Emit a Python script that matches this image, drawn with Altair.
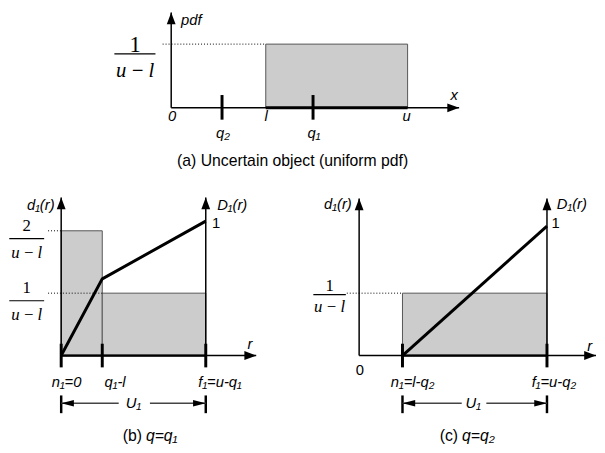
import altair as alt
import pandas as pd

# ---------------- values ----------------
# (a) uncertain object with a uniform pdf on [l, u]
A_NAMES = ["0", "q₂", "l", "q₁", "u"]
A_VALUES = [0.0, 2.15, 4.0, 6.0, 10.0]
L_VAL = 4.0
U_VAL = 10.0
PDF = 1.0 / (U_VAL - L_VAL)

# (b) q = q1  (schematic r axis)
B_R = [0.0, 1.0, 3.52]                 # n1, q1-l, f1
B_R_LABELS = ["n₁=0", "q₁-l", "f₁=u-q₁"]
B_DENSITY = [2.0, 1.0]                 # multiples of 1/(u-l)
B_CDF = [0.0, 0.57, 1.0]

# (c) q = q2
C_R = [1.8, 7.8]                       # n1, f1
C_R_LABELS = ["n₁=l-q₂", "f₁=u-q₂"]
C_DENSITY = [1.0]
C_CDF = [0.0, 1.0]

CAPTION_A = "(a) Uncertain object (uniform pdf)"
CAPTION_B = ["(b)", "q=q₁"]
CAPTION_C = ["(c)", "q=q₂"]
NAMES = {"pdf": "pdf", "x": "x", "d": "d₁(r)", "D": "D₁(r)", "r": "r",
         "U": "U₁", "one": "1", "zero": "0"}
FRAC_DEN = "u\u2009−\u2009l"

# ---------------- styling ----------------
SANS = "Arial, Liberation Sans, Helvetica, sans-serif"
SERIF = "Times New Roman, Liberation Serif, serif"
UP = "M0,0L-1.5,4L1.5,4Z"
RIGHT = "M0,0L-4,-1.5L-4,1.5Z"
DIM_L = "M0,0L4.3,-1.1L4.3,1.1Z"
DIM_R = "M0,0L-4.3,-1.1L-4.3,1.1Z"
FILL = "#cccccc"
EDGE = "#555555"


def lin(origin, ppu, size, vertical=False):
    if vertical:
        d = [(origin - size) / ppu, origin / ppu]
    else:
        d = [-origin / ppu, (size - origin) / ppu]
    return alt.Scale(domain=d, nice=False, zero=False)


class Panel:
    def __init__(self, xs, ys):
        self.xs, self.ys = xs, ys
        self.layers = []

    def X(self):
        return alt.X("x:Q", scale=self.xs, axis=None)

    def Y(self, ys=None):
        return alt.Y("y:Q", scale=ys or self.ys, axis=None)

    def seg(self, rows, ys=None, **mk):
        df = pd.DataFrame(rows)
        enc = {"x": self.X(), "y": self.Y(ys)}
        if "x2" in df.columns:
            enc["x2"] = alt.X2("x2:Q")
        if "y2" in df.columns:
            enc["y2"] = alt.Y2("y2:Q")
        props = dict(color="black", strokeWidth=1.5)
        props.update(mk)
        self.layers.append(alt.Chart(df).mark_rule(**props).encode(**enc))

    def rect(self, rows):
        df = pd.DataFrame(rows)
        self.layers.append(
            alt.Chart(df).mark_rect(fill=FILL, stroke=EDGE, strokeWidth=1).encode(
                x=self.X(), x2="x2:Q", y=self.Y(), y2="y2:Q"))

    def arrow(self, rows, shape, **mk):
        df = pd.DataFrame(rows)
        self.layers.append(
            alt.Chart(df).mark_point(shape=shape, size=36, filled=True, color="black",
                                     opacity=1, strokeWidth=0, **mk).encode(
                x=self.X(), y=self.Y()))

    def line(self, xs, ys_vals, yscale):
        df = pd.DataFrame({"x": xs, "y": ys_vals})
        self.layers.append(
            alt.Chart(df).mark_line(color="black", strokeWidth=3).encode(
                x=self.X(), y=self.Y(yscale)))

    def text(self, x, y, s, ys=None, **mk):
        df = pd.DataFrame({"x": [x], "y": [y], "t": [s]})
        props = dict(font=SANS, fontSize=15, fontStyle="italic", baseline="alphabetic",
                     align="center", color="black")
        props.update(mk)
        self.layers.append(
            alt.Chart(df).mark_text(**props).encode(x=self.X(), y=self.Y(ys), text="t:N"))

    def caption(self, px, py, s, **mk):
        df = pd.DataFrame({"t": [s]})
        props = dict(font=SANS, fontSize=16, fontStyle="normal", baseline="alphabetic",
                     align="center", color="black")
        props.update(mk)
        self.layers.append(
            alt.Chart(df).mark_text(**props).encode(x=alt.value(px), y=alt.value(py),
                                                    text="t:N"))

    def frac(self, num, y, cx, num_dy, bar_dy, den_dy, b0, b1, nsize, dsize):
        self.text(0, y, num, font=SERIF, fontSize=nsize, fontStyle="normal", dx=cx, dy=num_dy)
        self.seg([{"x": 0, "x2": 0, "y": y}], xOffset=b0, x2Offset=b1, yOffset=bar_dy,
                 strokeWidth=1.2)
        self.text(0, y, FRAC_DEN, font=SERIF, fontSize=dsize, dx=cx, dy=den_dy)

    def chart(self, w, h):
        return alt.layer(*self.layers).resolve_scale(y="independent").properties(
            width=w, height=h)


# ---------------- panel (a) ----------------
WA, HA = 589, 177
A = Panel(lin(163.7, 24.0, WA), lin(97.0, 64.7 / PDF, HA, vertical=True))
tipYA = 96.9 / (64.7 / PDF)
tipXA = (456 - 163.7) / 24.0
A.rect([{"x": L_VAL, "x2": U_VAL, "y": 0, "y2": PDF}])
A.seg([{"x": L_VAL, "x2": U_VAL, "y": 0}], strokeWidth=3)
A.seg([{"x": 0, "x2": tipXA, "y": 0, "y2": 0}, {"x": 0, "x2": 0, "y": 0, "y2": tipYA}])
A.arrow([{"x": 0, "y": tipYA}], UP)
A.arrow([{"x": tipXA, "y": 0}], RIGHT)
A.seg([{"x": 0, "x2": L_VAL, "y": PDF}], xOffset=-8.7, strokeWidth=1, strokeDash=[1, 2])
for name, v in zip(A_NAMES, A_VALUES):
    if name.startswith("q"):
        A.seg([{"x": v, "y": 0, "y2": 0}], yOffset=-13, y2Offset=12, strokeWidth=3)
        A.text(v, 0, name, dy=30.5, dx=1)
    else:
        A.text(v, 0, name, dy=13.3, dx={"0": 1, "l": 0.5, "u": -1}[name])
A.text(0, tipYA, NAMES["pdf"], align="left", dx=10, dy=12.7)
A.text(tipXA, 0, NAMES["x"], dx=-5, dy=-8.3)
A.frac("1", PDF, -36.7, 8, 10, 33.7, -57.7, -16, 23, 21)
A.caption(287, 156.5, CAPTION_A)

# ---------------- panel (b) ----------------
WB, HB = 294, 262
ysB = lin(171.5, 380, HB, vertical=True)
ycB = lin(171.5, 136.5, HB, vertical=True)
B = Panel(lin(52, 41.7, WB), ysB)
tipYB = (171.5 - 11) / 380
tipXB = (250 - 52) / 41.7
n1b, mb, f1b = B_R
B.rect([{"x": n1b, "x2": mb, "y": 0, "y2": B_DENSITY[0] * PDF},
        {"x": mb, "x2": f1b, "y": 0, "y2": B_DENSITY[1] * PDF}])
B.seg([{"x": n1b, "x2": f1b, "y": 0}], strokeWidth=2.2)
B.seg([{"x": 0, "x2": tipXB, "y": 0, "y2": 0},
       {"x": 0, "x2": 0, "y": 0, "y2": tipYB},
       {"x": f1b, "x2": f1b, "y": 0, "y2": tipYB}])
B.arrow([{"x": 0, "y": tipYB}, {"x": f1b, "y": tipYB}], UP)
B.arrow([{"x": tipXB, "y": 0}], RIGHT)
B.seg([{"x": 0, "x2": 0, "y": B_DENSITY[0] * PDF}], xOffset=-13.3, strokeWidth=1,
      strokeDash=[1, 2])
B.seg([{"x": 0, "x2": mb, "y": B_DENSITY[1] * PDF}], xOffset=-13.3, strokeWidth=1,
      strokeDash=[1, 2])
B.line(B_R, B_CDF, ycB)
for v, lab, dx in zip(B_R, B_R_LABELS, [5.5, 13, 14.5]):
    B.seg([{"x": v, "y": 0, "y2": 0}], yOffset=-12, y2Offset=12, strokeWidth=3)
    B.text(v, 0, lab, dx=dx, dy=31.5)
midB = (n1b + f1b) / 2
B.seg([{"x": n1b, "y": 0, "y2": 0}, {"x": f1b, "y": 0, "y2": 0}], yOffset=40.5,
      y2Offset=58.5, strokeWidth=2.5)
B.seg([{"x": n1b, "x2": midB, "y": 0}], x2Offset=-15, yOffset=48.5, color="#444444")
B.seg([{"x": midB, "x2": f1b, "y": 0}], xOffset=16.7, yOffset=48.5, color="#444444")
B.arrow([{"x": n1b, "y": 0}], DIM_L, yOffset=48.5)
B.arrow([{"x": f1b, "y": 0}], DIM_R, yOffset=48.5)
B.text(midB, 0, NAMES["U"], dy=53.5)
B.text(0, tipYB, NAMES["d"], align="right", dx=-6.7, dy=13)
B.text(f1b, tipYB, NAMES["D"], align="left", dx=11.6, dy=13)
B.text(f1b, 1.0, NAMES["one"], ys=ycB, fontStyle="normal", dx=10.6, dy=6.7)
B.text(tipXB, 0, NAMES["r"], dx=-6.3, dy=-6.5)
B.frac("2", B_DENSITY[0] * PDF, -35, 0, 8, 28, -52.7, -17.3, 17, 17)
B.frac("1", B_DENSITY[1] * PDF, -35, 0, 7.7, 27.7, -52.7, -17.3, 17, 17)
B.caption(134, 258, CAPTION_B[0], align="right")
B.caption(138, 258, CAPTION_B[1], align="left", fontStyle="italic")

# ---------------- panel (c) ----------------
WC, HC = 301, 262
ysC = lin(171.5, 380, HC, vertical=True)
ycC = lin(171.5, 131.5, HC, vertical=True)
C = Panel(lin(60.5, 24.45, WC), ysC)
tipYC = (171.5 - 12) / 380
tipXC = (301 - 60.5) / 24.45
n1c, f1c = C_R
C.rect([{"x": n1c, "x2": f1c, "y": 0, "y2": C_DENSITY[0] * PDF}])
C.seg([{"x": n1c, "x2": f1c, "y": 0}], strokeWidth=2.2)
C.seg([{"x": 0, "x2": tipXC, "y": 0, "y2": 0},
       {"x": 0, "x2": 0, "y": 0, "y2": tipYC},
       {"x": f1c, "x2": f1c, "y": 0, "y2": tipYC}])
C.arrow([{"x": 0, "y": tipYC}, {"x": f1c, "y": tipYC}], UP)
C.arrow([{"x": tipXC, "y": 0}], RIGHT)
C.seg([{"x": 0, "x2": n1c, "y": C_DENSITY[0] * PDF}], xOffset=-12.5, strokeWidth=1,
      strokeDash=[1, 2])
C.line(C_R, C_CDF, ycC)
for v, lab, dx in zip(C_R, C_R_LABELS, [10.2, 7]):
    C.seg([{"x": v, "y": 0, "y2": 0}], yOffset=-12, y2Offset=12, strokeWidth=3)
    C.text(v, 0, lab, dx=dx, dy=31.5)
C.text(0, 0, NAMES["zero"], fontStyle="normal", dx=0.8, dy=20.2)
midC = (n1c + f1c) / 2
C.seg([{"x": n1c, "y": 0, "y2": 0}, {"x": f1c, "y": 0, "y2": 0}], yOffset=40.5,
      y2Offset=58.5, strokeWidth=2.5)
C.seg([{"x": n1c, "x2": midC, "y": 0}], x2Offset=-13.2, yOffset=48.5, color="#444444")
C.seg([{"x": midC, "x2": f1c, "y": 0}], xOffset=11.8, yOffset=48.5, color="#444444")
C.arrow([{"x": n1c, "y": 0}], DIM_L, yOffset=48.5)
C.arrow([{"x": f1c, "y": 0}], DIM_R, yOffset=48.5)
C.text(midC, 0, NAMES["U"], dy=53.5, dx=-1.5)
C.text(0, tipYC, NAMES["d"], align="right", dx=-7.5, dy=11)
C.text(f1c, tipYC, NAMES["D"], align="left", dx=10, dy=11)
C.text(f1c, 1.0, NAMES["one"], ys=ycC, fontStyle="normal", dx=8.7, dy=1.7)
C.text(tipXC, 0, NAMES["r"], dx=-6.3, dy=-4.8)
C.frac("1", C_DENSITY[0] * PDF, -30, -2, 1.5, 19.5, -46.5, -13.5, 17, 17)
C.caption(161, 258, CAPTION_C[0], align="right")
C.caption(165, 258, CAPTION_C[1], align="left", fontStyle="italic")

chart = alt.vconcat(
    A.chart(WA, HA),
    alt.hconcat(B.chart(WB, HB), C.chart(WC, HC), spacing=0, bounds="flush"),
    spacing=0, bounds="flush",
).properties(padding=0).configure_view(stroke=None)

chart.save("out.html", embed_options={"renderer": "svg", "actions": False})
